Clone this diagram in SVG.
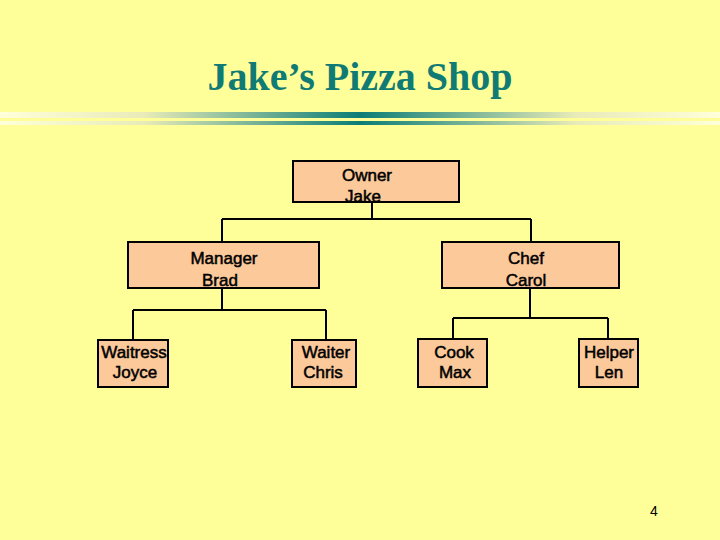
<svg xmlns="http://www.w3.org/2000/svg" width="720" height="540" viewBox="0 0 720 540">
<defs>
<linearGradient id="bar" x1="0" y1="0" x2="720" y2="0" gradientUnits="userSpaceOnUse">
<stop offset="0" stop-color="#FFFFDA"/>
<stop offset="0.2" stop-color="#E9EBB8"/>
<stop offset="0.5" stop-color="#0B7D76"/>
<stop offset="0.8" stop-color="#E9EBB8"/>
<stop offset="1" stop-color="#FFFFDA"/>
</linearGradient>
<style>
.box{fill:#FBC99A;stroke:#000;stroke-width:2}
.lbl{font-family:"Liberation Sans",Arial,sans-serif;font-size:17px;fill:#000;text-anchor:middle;stroke:#000;stroke-width:0.5}
.wire{fill:none;stroke:#000;stroke-width:2}
</style>
</defs>
<rect x="0" y="0" width="720" height="540" fill="#FFFF99"/>
<text x="360" y="90" font-family="'Liberation Serif','Times New Roman',serif" font-size="40" font-weight="bold" fill="#0F7B74" text-anchor="middle">Jake’s Pizza Shop</text>
<rect x="0" y="112" width="720" height="6" fill="url(#bar)"/>
<rect x="0" y="121" width="720" height="4" fill="url(#bar)"/>
<g id="connectors">
<path class="wire" d="M372 202V219M222 219H531M222 219V242M531 219V242"/>
<path class="wire" d="M222 288V310M133 310H326M133 310V340M326 310V340"/>
<path class="wire" d="M530 288V318M453 318H608M453 318V339M608 318V339"/>
</g>
<g id="owner"><rect class="box" x="293" y="161" width="166" height="41"/><text class="lbl" x="367" y="181">Owner</text><text class="lbl" x="363" y="202">Jake</text></g>
<g id="manager"><rect class="box" x="128" y="242" width="191" height="46"/><text class="lbl" x="224" y="264">Manager</text><text class="lbl" x="220" y="286">Brad</text></g>
<g id="chef"><rect class="box" x="442" y="242" width="177" height="46"/><text class="lbl" x="526" y="264">Chef</text><text class="lbl" x="526" y="286">Carol</text></g>
<g id="waitress"><rect class="box" x="98" y="340" width="70" height="47"/><text class="lbl" x="134" y="358">Waitress</text><text class="lbl" x="135" y="378">Joyce</text></g>
<g id="waiter"><rect class="box" x="292" y="340" width="64" height="47"/><text class="lbl" x="326" y="358">Waiter</text><text class="lbl" x="323" y="378">Chris</text></g>
<g id="cook"><rect class="box" x="418" y="339" width="69" height="48"/><text class="lbl" x="454" y="358">Cook</text><text class="lbl" x="455" y="378">Max</text></g>
<g id="helper"><rect class="box" x="579" y="339" width="59" height="48"/><text class="lbl" x="609" y="358">Helper</text><text class="lbl" x="609" y="378">Len</text></g>
<text x="654" y="516" font-family="'Liberation Sans',Arial,sans-serif" font-size="14" fill="#000" text-anchor="middle">4</text>
</svg>
